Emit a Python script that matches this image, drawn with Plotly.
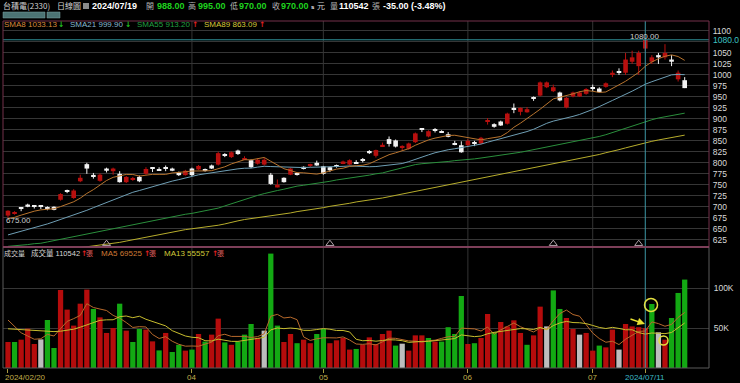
import plotly.graph_objects as go
import pandas as pd

W, H = 740, 383

# ---------------- data ----------------
holidays = ["2024-02-28", "2024-04-04", "2024-04-05", "2024-05-01", "2024-06-10"]
dates = [d for d in pd.bdate_range("2024-02-20", "2024-07-19") if d.strftime("%Y-%m-%d") not in holidays]

opens = [680, 684, 698, 705, 703, 702, 697, 700, 716, 737, 720, 758, 797, 771, 759, 787, 781, 775, 756, 761,
         768, 775, 789, 783, 789, 787, 778, 772, 787, 785, 786, 794, 796, 818, 813, 828, 807, 806, 798, 796,
         773, 744, 766, 773, 776, 791, 794, 800, 792, 790, 795, 799, 796, 800, 806, 827, 816, 838, 854, 851,
         836, 832, 847, 877, 860, 875, 870, 865, 844, 840, 840, 846, 844, 894, 888, 894, 889, 925, 916, 915,
         948, 953, 972, 963, 960, 926, 951, 951, 957, 971, 969, 973, 1000, 1005, 1005, 1030, 1020, 1060, 1030, 1045,
         1040, 1035, 990, 988]
highs = [692, 690, 699, 707, 704, 703, 701, 701, 731, 739, 740, 773, 800, 777, 776, 789, 789, 781, 770, 768,
         771, 790, 790, 790, 794, 789, 780, 784, 789, 795, 787, 796, 825, 822, 826, 830, 815, 808, 810, 811,
         777, 762, 767, 788, 778, 792, 798, 805, 793, 791, 796, 805, 808, 806, 811, 829, 830, 846, 860, 853,
         840, 846, 869, 879, 874, 879, 874, 870, 850, 849, 854, 850, 859, 902, 890, 896, 914, 935, 926, 927,
         951, 985, 985, 978, 962, 950, 962, 963, 970, 978, 972, 983, 1010, 1015, 1050, 1055, 1055, 1080, 1045, 1050,
         1070, 1045, 1010, 995]
lows = [675, 682, 690, 699, 696, 695, 692, 692, 714, 731, 718, 756, 775, 764, 757, 778, 773, 755, 754, 759,
        756, 773, 779, 782, 781, 781, 770, 771, 770, 784, 780, 786, 794, 813, 811, 818, 806, 788, 796, 794,
        750, 744, 755, 772, 771, 785, 790, 793, 773, 779, 789, 797, 794, 799, 801, 820, 812, 837, 837, 835,
        828, 830, 845, 870, 858, 869, 869, 858, 840, 823, 838, 838, 842, 887, 880, 884, 887, 913, 908, 914,
        941, 951, 970, 961, 940, 924, 949, 950, 955, 963, 960, 971, 995, 1000, 1000, 1025, 1000, 1055, 1025, 1025,
        1035, 1020, 985, 970]
closes = [691, 687, 696, 700, 701, 701, 696, 693, 729, 734, 737, 766, 787, 770, 773, 782, 787, 756, 768, 765,
          758, 786, 788, 782, 787, 782, 772, 782, 772, 793, 783, 787, 822, 817, 824, 820, 811, 790, 807, 807,
          752, 750, 756, 787, 773, 786, 797, 794, 775, 783, 791, 803, 806, 799, 805, 822, 829, 841, 843, 837,
          837, 844, 867, 876, 872, 874, 869, 859, 841, 824, 850, 843, 857, 897, 882, 885, 912, 921, 925, 922,
          946, 983, 983, 972, 942, 948, 960, 960, 968, 970, 961, 981, 1005, 1005, 1035, 1040, 1050, 1080, 1040, 1040,
          1050, 1030, 1005, 970]
volumes = [32500, 32500, 35400, 49200, 30000, 35800, 60000, 25000, 97500, 73000, 53000, 80400, 98000, 73800, 63300,
           43800, 50000, 80400, 46700, 32500, 48800, 48000, 33300, 22000, 43800, 20000, 29000, 21700, 23000, 42500,
           33000, 41700, 61700, 32000, 29000, 33000, 41700, 55000, 37500, 46700, 143000, 53000, 32500, 42500, 31000,
           35400, 31000, 42500, 48800, 31000, 34600, 37500, 23000, 23800, 29000, 38300, 30000, 42500, 46700, 28000,
           30400, 21700, 40800, 40800, 37500, 33000, 33000, 51000, 42500, 90000, 30000, 31000, 37500, 67500, 45000,
           57500, 52000, 59600, 43800, 29000, 40800, 76700, 52000, 97000, 73800, 62500, 48800, 41700, 43800, 21700,
           28000, 25800, 48000, 23000, 55000, 52000, 51000, 50000, 80000, 44600, 35400, 62500, 93800, 110542]
prev_close = 684

sma8_head = [673, 676, 681, 686, 690, 693, 695]
sma21_head = [636, 640, 644, 648, 652, 656, 661, 666, 671, 677, 682, 687, 692, 698, 704, 710, 716, 722, 728, 733]
sma55 = [610, 611, 613, 614, 616, 617, 620, 623, 626, 630, 633, 636, 639, 642, 645, 648, 651, 654, 657, 660,
         663, 666, 669, 672, 675, 678, 681, 683, 685, 688, 690, 693, 697, 702, 707, 711, 716, 721, 726, 730,
         734, 737, 740, 744, 747, 749, 751, 754, 756, 758, 761, 763, 765, 767, 770, 772, 775, 777, 781, 785,
         788, 792, 796, 798, 799, 801, 802, 803, 805, 806, 808, 809, 811, 813, 815, 817, 820, 822, 824, 827,
         830, 833, 836, 838, 841, 844, 847, 850, 853, 856, 860, 864, 869, 874, 879, 884, 889, 893, 898, 902,
         905, 908, 911, 913]
sma89 = [590, 592, 593, 595, 596, 598, 599, 601, 602, 604, 605, 607, 608, 610, 612, 614, 617, 619, 622, 625,
         628, 630, 633, 636, 640, 643, 646, 648, 650, 652, 653, 655, 658, 661, 665, 668, 671, 673, 675, 678,
         680, 682, 684, 686, 689, 691, 693, 696, 698, 701, 703, 706, 708, 711, 713, 715, 718, 720, 723, 726,
         729, 732, 735, 738, 741, 744, 747, 750, 753, 756, 759, 762, 765, 768, 771, 774, 777, 780, 783, 786,
         789, 792, 795, 797, 800, 803, 806, 809, 812, 815, 819, 823, 826, 830, 834, 838, 841, 845, 849, 852,
         855, 858, 861, 863]
vma5_head = [60000, 52000, 44000, 40000]
vma13_head = [49000, 48500, 48000, 47500, 47000, 46500, 46000, 45500, 46000, 47000, 48500, 51000]

event_idx = [15, 49, 83, 96]
price_ticks = list(range(625, 1101, 25))
xtick_idx = [0, 28, 48, 70, 89]
xtick_text = ["2024/02/20", "04", "05", "06", "07"]
mark_idx = 97
mark_text = "2024/07/11"
high_mark = 1080.00
low_mark = 675.00

# ---------------- derived ----------------
n = len(closes)
idx = list(range(n))


def rolling(vals, k, head):
    out = list(head)
    for i in range(len(head), len(vals)):
        out.append(sum(vals[i - k + 1:i + 1]) / k)
    return out


sma8 = rolling(closes, 8, sma8_head)
sma21 = rolling(closes, 21, sma21_head)
vma5 = rolling(volumes, 5, vma5_head)
vma13 = rolling(volumes, 13, vma13_head)

RED = "#b8100f"
WHITE = "#f2f2f2"
VRED = "#b50c0c"
VGREEN = "#13a913"
VGRAY = "#bdbdbd"

ccol = [RED if c > o else WHITE for o, c in zip(opens, closes)]
bases = [min(o, c) for o, c in zip(opens, closes)]
heights = [max(abs(c - o), 2.5) for o, c in zip(opens, closes)]
vcol = []
for i in idx:
    pc = prev_close if i == 0 else closes[i - 1]
    vcol.append(VRED if closes[i] > pc else (VGREEN if closes[i] < pc else VGRAY))

# ---------------- geometry ----------------
X0, X1 = 3, 709
PY0, PY1 = 21, 247      # price panel (pixel top/bottom)
VY0, VY1 = 247, 368     # volume panel
PMAX, PMIN = 1122.7, 608.5
VMAX = 151250
XR = [-0.76, 106.7]


def px(x):
    return x / W


def py(y):
    return 1 - y / H


FONT = "Liberation Sans, Arial, Noto Sans CJK TC, sans-serif"
CJK = "Noto Sans CJK TC, sans-serif"

fig = go.Figure()

# volume bars
fig.add_trace(go.Bar(x=idx, y=volumes, marker=dict(color=vcol, line=dict(width=0)), width=0.8,
                     xaxis="x2", yaxis="y2", hoverinfo="skip"))
fig.add_trace(go.Scatter(x=idx, y=vma5, mode="lines", line=dict(color="#b86a2c", width=1),
                         xaxis="x2", yaxis="y2", hoverinfo="skip"))
fig.add_trace(go.Scatter(x=idx, y=vma13, mode="lines", line=dict(color="#c8bd2e", width=1),
                         xaxis="x2", yaxis="y2", hoverinfo="skip"))

# candle bodies
fig.add_trace(go.Bar(x=idx, y=heights, base=bases, marker=dict(color=ccol, line=dict(width=0)), width=0.7,
                     xaxis="x", yaxis="y", hoverinfo="skip"))

# wicks
for col in (RED, WHITE):
    wx, wy = [], []
    for i in idx:
        if ccol[i] == col:
            wx += [i, i, None]
            wy += [lows[i], highs[i], None]
    fig.add_trace(go.Scatter(x=wx, y=wy, mode="lines", line=dict(color=col, width=1),
                             xaxis="x", yaxis="y", hoverinfo="skip"))

# moving averages
for vals, col in ((sma89, "#b7ad2c"), (sma55, "#2a8f3c"), (sma21, "#6f9fb5"), (sma8, "#b8742e")):
    fig.add_trace(go.Scatter(x=idx, y=vals, mode="lines", line=dict(color=col, width=1),
                             xaxis="x", yaxis="y", hoverinfo="skip"))

# event markers
fig.add_trace(go.Scatter(x=event_idx, y=[616] * len(event_idx), mode="markers",
                         marker=dict(symbol="triangle-up-open", size=7, color="#b0a0a8", line=dict(width=1)),
                         xaxis="x", yaxis="y", hoverinfo="skip"))

shapes = []
# month grid lines
for i in xtick_idx[1:]:
    shapes.append(dict(type="line", xref="x", yref="paper", x0=i, x1=i, y0=py(VY1), y1=py(PY0),
                       line=dict(color="#343434", width=1), layer="below"))
# 1080 line
shapes.append(dict(type="line", xref="paper", yref="y", x0=px(X0), x1=px(X1), y0=high_mark, y1=high_mark,
                   line=dict(color="#2f8f96", width=1)))
# marked date vertical line
shapes.append(dict(type="line", xref="x", yref="paper", x0=mark_idx, x1=mark_idx, y0=py(VY1), y1=py(PY0),
                   line=dict(color="#3c97a6", width=1)))
# panel borders
shapes.append(dict(type="rect", xref="paper", yref="paper", x0=px(X0), x1=px(X1), y0=py(VY1), y1=py(VY0),
                   line=dict(color="#5a5a5a", width=1)))
shapes.append(dict(type="rect", xref="paper", yref="paper", x0=px(X0), x1=px(X1), y0=py(PY1), y1=py(PY0),
                   line=dict(color="#74304a", width=1)))
shapes.append(dict(type="line", xref="paper", yref="paper", x0=px(X0), x1=px(X1), y0=py(PY1), y1=py(PY1),
                   line=dict(color="#8c4664", width=1.5)))
# toolbar and header icon
shapes.append(dict(type="rect", xref="paper", yref="paper", x0=px(3), x1=px(45), y0=py(18), y1=py(12),
                   fillcolor="#4c7474", line=dict(color="#7aa0a0", width=0.5)))
shapes.append(dict(type="rect", xref="paper", yref="paper", x0=px(47), x1=px(60), y0=py(18), y1=py(12),
                   fillcolor="#4c7474", line=dict(color="#7aa0a0", width=0.5)))
shapes.append(dict(type="rect", xref="paper", yref="paper", x0=px(83), x1=px(89), y0=py(9), y1=py(3),
                   fillcolor="#8a8a8a", line=dict(width=0)))
# yellow circles
for cx, cy, r in ((651, 305, 6.5), (663.5, 340.5, 4.5)):
    shapes.append(dict(type="circle", xref="paper", yref="paper", x0=px(cx - r), x1=px(cx + r),
                       y0=py(cy + r), y1=py(cy - r), line=dict(color="#e4e040", width=1.5)))

ann = []


def txt(x, y, s, color, size=8, anchor="left", family=FONT, bg=None):
    d = dict(xref="paper", yref="paper", x=px(x), y=py(y), text=s, showarrow=False, xanchor=anchor,
             yanchor="middle", font=dict(family=family, size=size, color=color), borderpad=0)
    if bg:
        d["bgcolor"] = bg
    ann.append(d)


GRAY = "#b4b4b4"
GREEN = "#1ed21e"
# header
txt(2, 6, "台積電(2330)", "#d0d0d0", 8, family=CJK)
txt(56, 6, "日線圖", "#d0d0d0", 8, family=CJK)
txt(91, 6, "<b>2024/07/19</b>", "#ffffff", 9)
txt(145, 6, "開", GRAY, 8, family=CJK)
txt(156, 6, "<b>%.2f</b>" % opens[-1], GREEN, 9)
txt(187, 6, "高", GRAY, 8, family=CJK)
txt(197, 6, "<b>%.2f</b>" % highs[-1], GREEN, 9)
txt(229, 6, "低", GRAY, 8, family=CJK)
txt(238, 6, "<b>%.2f</b>" % lows[-1], GREEN, 9)
txt(271, 6, "收", GRAY, 8, family=CJK)
txt(280, 6, "<b>%.2f</b>" % closes[-1], GREEN, 9)
txt(310, 7, "<b>s</b>", "#ffffff", 6)
txt(316, 6, "元", "#d0d0d0", 8, family=CJK)
txt(329, 6, "量", GRAY, 8, family=CJK)
txt(338, 6, "<b>%d</b>" % volumes[-1], "#ffffff", 9)
txt(371, 6, "張", GRAY, 8, family=CJK)
chg = closes[-1] - closes[-2]
txt(382, 6, "<b>%.2f (%.2f%%)</b>" % (chg, chg / closes[-2] * 100), "#ffffff", 9)

# price legend
ARR = "DejaVu Sans, sans-serif"
txt(3, 25, "SMA8 %.2f" % 1033.13, "#d88a3c", 8)
txt(57, 25, "<b>↓</b>", "#22c022", 7.5, family=ARR)
txt(69, 25, "SMA21 %.2f" % 999.90, "#86b8d0", 8)
txt(124, 25, "<b>↓</b>", "#22c022", 7.5, family=ARR)
txt(136, 25, "SMA55 %.2f" % 913.20, "#22a044", 8)
txt(191, 25, "<b>↑</b>", "#e02020", 7.5, family=ARR)
txt(203, 25, "SMA89 %.2f" % 863.09, "#d8c83a", 8)
txt(258, 25, "<b>↑</b>", "#e02020", 7.5, family=ARR)

# volume legend
txt(3, 253, "成交量", "#d0d0d0", 7, family=CJK)
txt(30, 253, "成交量 %d" % volumes[-1], "#d8d8d8", 7.5, family=FONT)
txt(80, 253, "<b>↑</b>", "#e02020", 7.5, family=ARR)
txt(85, 253, "張", "#e06060", 7, family=CJK)
txt(100, 253, "MA5 %d" % 69525, "#d07a34", 8)
txt(143, 253, "<b>↑</b>", "#e02020", 7.5, family=ARR)
txt(148, 253, "張", "#e06060", 7, family=CJK)
txt(163, 253, "MA13 %d" % 55557, "#d0c838", 8)
txt(211, 253, "<b>↑</b>", "#e02020", 7.5, family=ARR)
txt(216, 253, "張", "#e06060", 7, family=CJK)

# in-plot labels
txt(644, 36, "%.2f" % high_mark, "#cfcfcf", 8, anchor="center")
txt(5, 220, "%.2f" % low_mark, "#cfcfcf", 8)
txt(712, 39.7, "1080.0", "#3cc4c4", 8.5, bg="#000000")

# x labels
for i, s in zip(xtick_idx, xtick_text):
    xpix = 8 + i * 6.57
    if i == 0:
        txt(4, 377, s, "#c0ae4a", 8)
    else:
        txt(xpix, 377, s, "#c0ae4a", 8, anchor="center")
txt(8 + mark_idx * 6.57, 377, mark_text, "#3cb8c8", 8, anchor="center")

# yellow arrow
ann.append(dict(xref="paper", yref="paper", x=px(645), y=py(324), ax=-16, ay=-5.5, axref="pixel", ayref="pixel",
                text="", showarrow=True, arrowhead=2, arrowsize=1, arrowwidth=1.5, arrowcolor="#e8e030"))

fig.update_layout(
    width=W, height=H, margin=dict(l=0, r=0, t=0, b=0),
    paper_bgcolor="#000000", plot_bgcolor="#000000", showlegend=False, barmode="overlay",
    hovermode=False, shapes=shapes, annotations=ann,
    xaxis=dict(domain=[px(X0), px(X1)], range=XR, anchor="y", showticklabels=False, showgrid=False,
               zeroline=False, fixedrange=True),
    xaxis2=dict(domain=[px(X0), px(X1)], range=XR, anchor="y2", showticklabels=False, showgrid=False,
                zeroline=False, ticks="outside", tickvals=xtick_idx + [mark_idx], ticklen=4,
                tickcolor="#a89a40", tickwidth=1, fixedrange=True),
    yaxis=dict(domain=[py(PY1), py(PY0)], range=[PMIN, PMAX], side="right", tickvals=price_ticks,
               ticktext=[str(v) for v in price_ticks], showgrid=True, gridcolor="#363636", gridwidth=1,
               zeroline=False, ticks="outside", ticklen=1, tickcolor="#000000",
               tickfont=dict(family=FONT, size=8.5, color="#d8d8d8"), fixedrange=True),
    yaxis2=dict(domain=[py(VY1), py(VY0)], range=[0, VMAX], side="right", tickvals=[50000, 100000],
                ticktext=["50K", "100K"], showgrid=True, gridcolor="#363636", gridwidth=1, zeroline=False,
                ticks="outside", ticklen=2, tickcolor="#000000",
                tickfont=dict(family=FONT, size=8.5, color="#d8d8d8"), fixedrange=True),
)

fig.write_html("out.html", config={"displayModeBar": False},
               post_script="document.body.style.margin='0';document.body.style.overflow='hidden';")
